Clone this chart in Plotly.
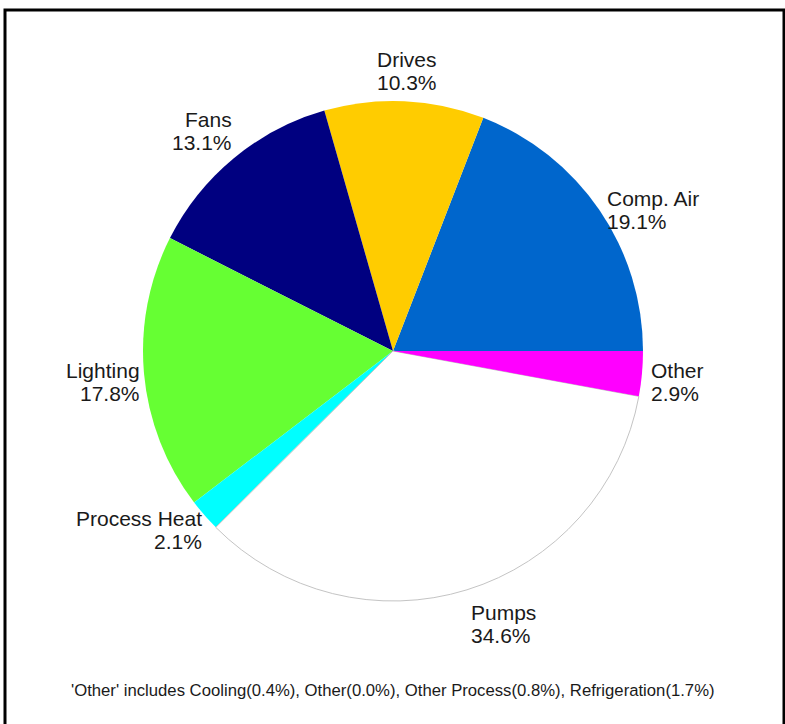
import math
import plotly.graph_objects as go

labels = ["Comp. Air", "Drives", "Fans", "Lighting", "Process Heat", "Pumps", "Other"]
values = [19.1, 10.3, 13.1, 17.8, 2.1, 34.6, 2.9]
colors = ["#0066CC", "#FFCC00", "#000080", "#66FF33", "#00FFFF", "#FFFFFF", "#FF00FF"]
footnote = "'Other' includes Cooling(0.4%), Other(0.0%), Other Process(0.8%), Refrigeration(1.7%)"

W, H = 785, 724
cx, cy, R = 393, 351, 250
total = sum(values)

fig = go.Figure(go.Pie(
    labels=labels, values=values, sort=False, direction="counterclockwise",
    rotation=90 - values[0] / total * 360, textinfo="none", hoverinfo="label+percent",
    marker=dict(colors=colors,
                line=dict(color=["rgba(0,0,0,0)"] * 5 + ["#c4c4c4", "rgba(0,0,0,0)"],
                          width=[0, 0, 0, 0, 0, 1, 0])),
    domain=dict(x=[(cx - R) / W, (cx + R) / W], y=[1 - (cy + R) / H, 1 - (cy - R) / H]),
    showlegend=False,
))

font = dict(family="Liberation Sans, Arial, sans-serif", size=21, color="#1a1a1a")
annotations = []
start = 0.0
LS = 23
lcx = cx + 2.4
for lab, v in zip(labels, values):
    mid = start + v / total * 360 / 2
    start += v / total * 360
    a = math.radians(mid)
    c, s = math.cos(a), math.sin(a)
    r = 256.5
    px = lcx + r * c
    py = cy - 262 * s
    if c > 0.2:
        xa, xs = "left", -2
    elif c < -0.2:
        xa, xs = "right", 2
    else:
        xa, xs = "center", 0
    if s > 0.7:
        yc = py - 18
    elif s < -0.7:
        yc = py + 23
    else:
        yc = py + 7
    for txt, yy in ((lab, yc - LS / 2), (f"{v:.1f}%", yc + LS / 2)):
        annotations.append(dict(
            x=px / W, y=1 - yy / H, xref="paper", yref="paper",
            text=txt, showarrow=False, xanchor=xa, yanchor="middle", xshift=xs,
            font=font,
        ))

annotations.append(dict(
    x=393 / W, y=1 - 690 / H, xref="paper", yref="paper", text=footnote,
    showarrow=False, xanchor="center", yanchor="middle",
    font=dict(family="Liberation Sans, Arial, sans-serif", size=16.7, color="#1a1a1a"),
))

fig.update_layout(
    width=W, height=H, margin=dict(l=0, r=0, t=0, b=0),
    paper_bgcolor="white", plot_bgcolor="white",
    annotations=annotations,
    shapes=[dict(type="rect", xref="paper", yref="paper",
                 x0=5 / W, x1=784 / W, y0=-0.02, y1=1 - 10 / H,
                 line=dict(color="black", width=3))],
)

fig.write_html("out.html", config={"displayModeBar": False},
               post_script="document.body.style.margin='0';document.body.style.overflow='hidden';")
